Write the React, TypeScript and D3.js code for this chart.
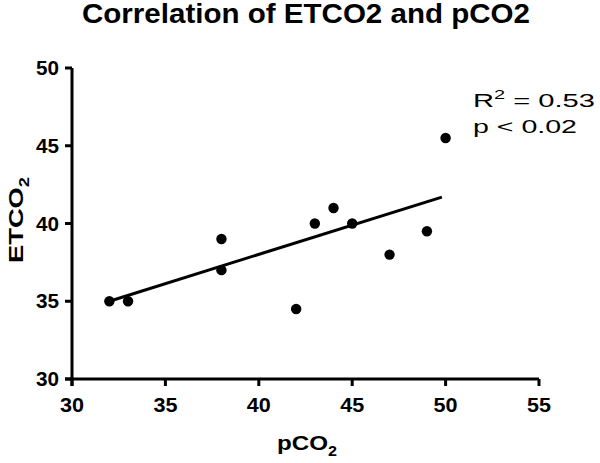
import React from "react";
import * as d3 from "d3";

const pco2 = [32, 33, 38, 38, 42, 43, 44, 45, 47, 49, 50];
const etco2 = [35, 35, 39, 37, 34.5, 40, 41, 40, 38, 39.5, 45.5];
const fitX = [32, 49.8];
const fitY = [35.0, 41.7];
const xTicks = [30, 35, 40, 45, 50, 55];
const yTicks = [30, 35, 40, 45, 50];

const W = 600;
const H = 463;
const FONT = "'Liberation Sans', Arial, Helvetica, sans-serif";

export default function App() {
  const x = d3.scaleLinear().domain([30, 55]).range([72, 539]);
  const y = d3.scaleLinear().domain([30, 50]).range([379, 68]);
  const tick = 7;
  const fitLine = d3
    .line<number>()
    .x((_, i) => x(fitX[i]))
    .y((_, i) => y(fitY[i]));
  const pts = pco2.map((v, i) => ({ x: v, y: etco2[i] }));

  return (
    <svg
      width={W}
      height={H}
      style={{ position: "absolute", left: 0, top: 0, background: "#fff" }}
      fontFamily={FONT}
    >
      <rect width={W} height={H} fill="#fff" />
      <text
        x={82}
        y={22.5}
        fontSize={27}
        fontWeight="bold"
        textLength={448}
        lengthAdjust="spacingAndGlyphs"
        fill="#000"
      >
        Correlation of ETCO2 and pCO2
      </text>

      {/* axes */}
      <line x1={x(30)} x2={x(30)} y1={y(50)} y2={y(30) + tick} stroke="#000" strokeWidth={3} />
      <line x1={x(30) - tick} x2={x(55)} y1={y(30)} y2={y(30)} stroke="#000" strokeWidth={3} />

      {yTicks.map((t) => (
        <g key={"y" + t}>
          <line x1={x(30) - tick} x2={x(30)} y1={y(t)} y2={y(t)} stroke="#000" strokeWidth={3} />
          <text
            x={x(30) - 13}
            y={y(t) + 7}
            fontSize={20}
            fontWeight="bold"
            textAnchor="end"
            textLength={23}
            lengthAdjust="spacingAndGlyphs"
          >
            {t}
          </text>
        </g>
      ))}
      {xTicks.map((t) => (
        <g key={"x" + t}>
          <line x1={x(t)} x2={x(t)} y1={y(30)} y2={y(30) + tick} stroke="#000" strokeWidth={3} />
          <text
            x={x(t) - 12}
            y={412}
            fontSize={20}
            fontWeight="bold"
            textLength={24}
            lengthAdjust="spacingAndGlyphs"
          >
            {t}
          </text>
        </g>
      ))}

      {/* axis titles */}
      <text x={277} y={450} fontSize={21} fontWeight="bold" textLength={60} lengthAdjust="spacingAndGlyphs">
        pCO<tspan fontSize={14} dy={6}>2</tspan>
      </text>
      <text
        transform="translate(23,263) rotate(-90)"
        x={0}
        y={0}
        fontSize={21}
        fontWeight="bold"
        textLength={86}
        lengthAdjust="spacingAndGlyphs"
      >
        ETCO<tspan fontSize={14} dy={6}>2</tspan>
      </text>

      {/* fit line */}
      <path d={fitLine(fitX) || ""} fill="none" stroke="#000" strokeWidth={3} />

      {/* points */}
      {pts.map((p, i) => (
        <circle key={i} cx={x(p.x)} cy={y(p.y)} r={5.2} fill="#000" />
      ))}

      {/* annotation */}
      <text x={473} y={107} fontSize={19} textLength={122} lengthAdjust="spacingAndGlyphs">
        R<tspan fontSize={13} dy={-8}>2</tspan>
        <tspan dy={8}> = 0.53</tspan>
      </text>
      <text x={473} y={133} fontSize={19} textLength={104} lengthAdjust="spacingAndGlyphs">
        p &lt; 0.02
      </text>
    </svg>
  );
}
